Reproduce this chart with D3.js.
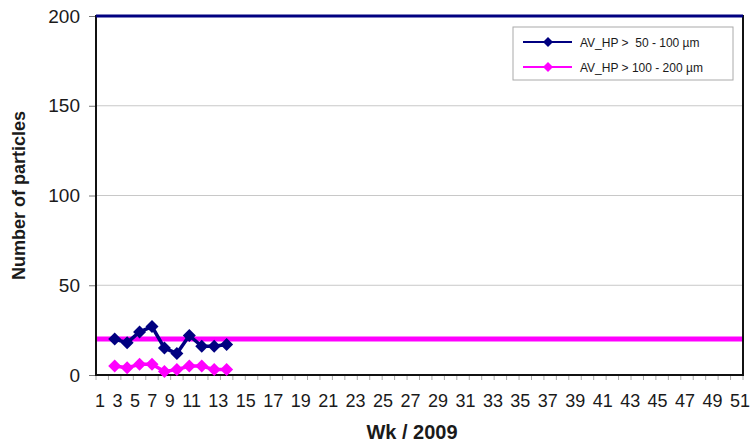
<!DOCTYPE html>
<html><head><meta charset="utf-8">
<script src="https://cdn.jsdelivr.net/npm/d3@7"></script>
<style>
body{margin:0;background:#fff}
svg{display:block}
text{font-family:"Liberation Sans",Arial,Helvetica,sans-serif;fill:#1a1a1a}
</style>
</head><body>
<svg id="c" width="751" height="448"></svg>
<script>
// ---- data ----
const weeks = [1,2,3,4,5,6,7,8,9,10,11,12,13,14,15,16,17,18,19,20,21,22,23,24,25,26,
               27,28,29,30,31,32,33,34,35,36,37,38,39,40,41,42,43,44,45,46,47,48,49,50,51,52];
const dataWeeks = [2,3,4,5,6,7,8,9,10,11];
const series50_100 = [20,18,24,27,15,12,22,16,16,17];
const series100_200 = [5,4,6,6,2,3,5,5,3,3];
const limit50_100 = 200;
const limit100_200 = 20;
const yTicks = [0,50,100,150,200];
const xTickLabels = [1,3,5,7,9,11,13,15,17,19,21,23,25,27,29,31,33,35,37,39,41,43,45,47,49,51];
const seriesNames = ["AV_HP >  50 - 100 \u00b5m","AV_HP > 100 - 200 \u00b5m"];
const seriesColors = ["#000080","#ff00ff"];

// ---- layout ----
const svg = d3.select("#c");
const L = 96, R = 743, T = 16, B = 375;
const x = d3.scaleBand().domain(weeks).range([L,R]).padding(0);
const xc = w => x(w) + x.bandwidth()/2;
const y = d3.scaleLinear().domain([0,200]).range([B,T]);

// gridlines
svg.append("g").selectAll("line").data(yTicks.filter(v=>v>0 && v<200)).join("line")
  .attr("x1",L).attr("x2",R).attr("y1",d=>y(d)).attr("y2",d=>y(d))
  .attr("stroke","#c8c8c8").attr("stroke-width",1);

// y axis
const yAxis = svg.append("g").attr("transform",`translate(${L},0)`)
  .call(d3.axisLeft(y).tickValues(yTicks).tickSize(7).tickPadding(9));
yAxis.select(".domain").remove();
yAxis.selectAll(".tick line").attr("stroke","#777");
yAxis.selectAll(".tick text").style("font-size","19px").attr("fill","#1a1a1a");

// x axis: minor ticks at category boundaries
const bounds = weeks.map(w=>x(w)).concat([R]);
svg.append("g").selectAll("line").data(bounds).join("line")
  .attr("x1",d=>d).attr("x2",d=>d).attr("y1",B).attr("y2",B+5)
  .attr("stroke","#aaa").attr("stroke-width",1);

const xAxis = svg.append("g").attr("transform",`translate(0,${B})`)
  .call(d3.axisBottom(d3.scaleLinear().domain([1,52]).range([xc(1),xc(52)]))
    .tickValues(xTickLabels).tickSize(0).tickPadding(19).tickFormat(d3.format("d")));
xAxis.select(".domain").remove();
const xt = xAxis.selectAll(".tick text").style("font-size","18px").attr("fill","#1a1a1a");
// labels run as an evenly spaced text row, as in the source picture
(function(){
  const nodes = xt.nodes();
  const widths = nodes.map(n=>n.getComputedTextLength());
  const startX = 95, endX = 750;
  const gap = (endX - startX - d3.sum(widths)) / (nodes.length-1);
  let cur = startX;
  nodes.forEach((n,i)=>{
    const center = cur + widths[i]/2;
    const tx = +d3.select(n.parentNode).attr("transform").match(/translate\(([-\d.]+)/)[1];
    d3.select(n).attr("x", center - tx);
    cur += widths[i] + gap;
  });
})();

// limit lines
svg.append("line").attr("x1",L).attr("x2",R).attr("y1",y(limit100_200)).attr("y2",y(limit100_200))
  .attr("stroke","#ff00ff").attr("stroke-width",5);

// plot frame
svg.append("rect").attr("x",L).attr("y",T).attr("width",R-L).attr("height",B-T)
  .attr("fill","none").attr("stroke","#111").attr("stroke-width",2);
svg.append("line").attr("x1",L).attr("x2",R).attr("y1",y(limit50_100)).attr("y2",y(limit50_100))
  .attr("stroke","#000080").attr("stroke-width",3);

// series
const diamond = (cx,cy,s) => `M${cx},${cy-s}L${cx+s},${cy}L${cx},${cy+s}L${cx-s},${cy}Z`;
[series50_100, series100_200].forEach((vals,k)=>{
  const pts = vals.map((v,i)=>[xc(dataWeeks[i]), y(v)]);
  svg.append("path").attr("d", d3.line()(pts)).attr("fill","none")
    .attr("stroke",seriesColors[k]).attr("stroke-width",3.5);
  svg.append("g").selectAll("path").data(pts).join("path")
    .attr("d",d=>diamond(d[0],d[1],6.5)).attr("fill",seriesColors[k]);
});

// axis titles
svg.append("text").attr("transform",`translate(25,${(T+B)/2}) rotate(-90)`)
  .attr("text-anchor","middle").style("font-size","18px").style("font-weight","bold")
  .text("Number of particles");
svg.append("text").attr("x",412).attr("y",439).attr("text-anchor","middle")
  .style("font-size","20px").style("font-weight","bold").text("Wk / 2009");

// legend
const lg = svg.append("g").attr("transform","translate(513,27)");
lg.append("rect").attr("width",220).attr("height",53).attr("fill","#fff")
  .attr("stroke","#aaa").attr("stroke-width",1);
seriesNames.forEach((nm,k)=>{
  const yy = 15 + k*25;
  lg.append("line").attr("x1",10).attr("x2",59).attr("y1",yy).attr("y2",yy)
    .attr("stroke",seriesColors[k]).attr("stroke-width",2);
  lg.append("path").attr("d",diamond(35,yy,5)).attr("fill",seriesColors[k]);
  lg.append("text").attr("x",67).attr("y",yy+4.5).style("font-size","12px")
    .style("white-space","pre").text(nm);
});
</script>
</body></html>
